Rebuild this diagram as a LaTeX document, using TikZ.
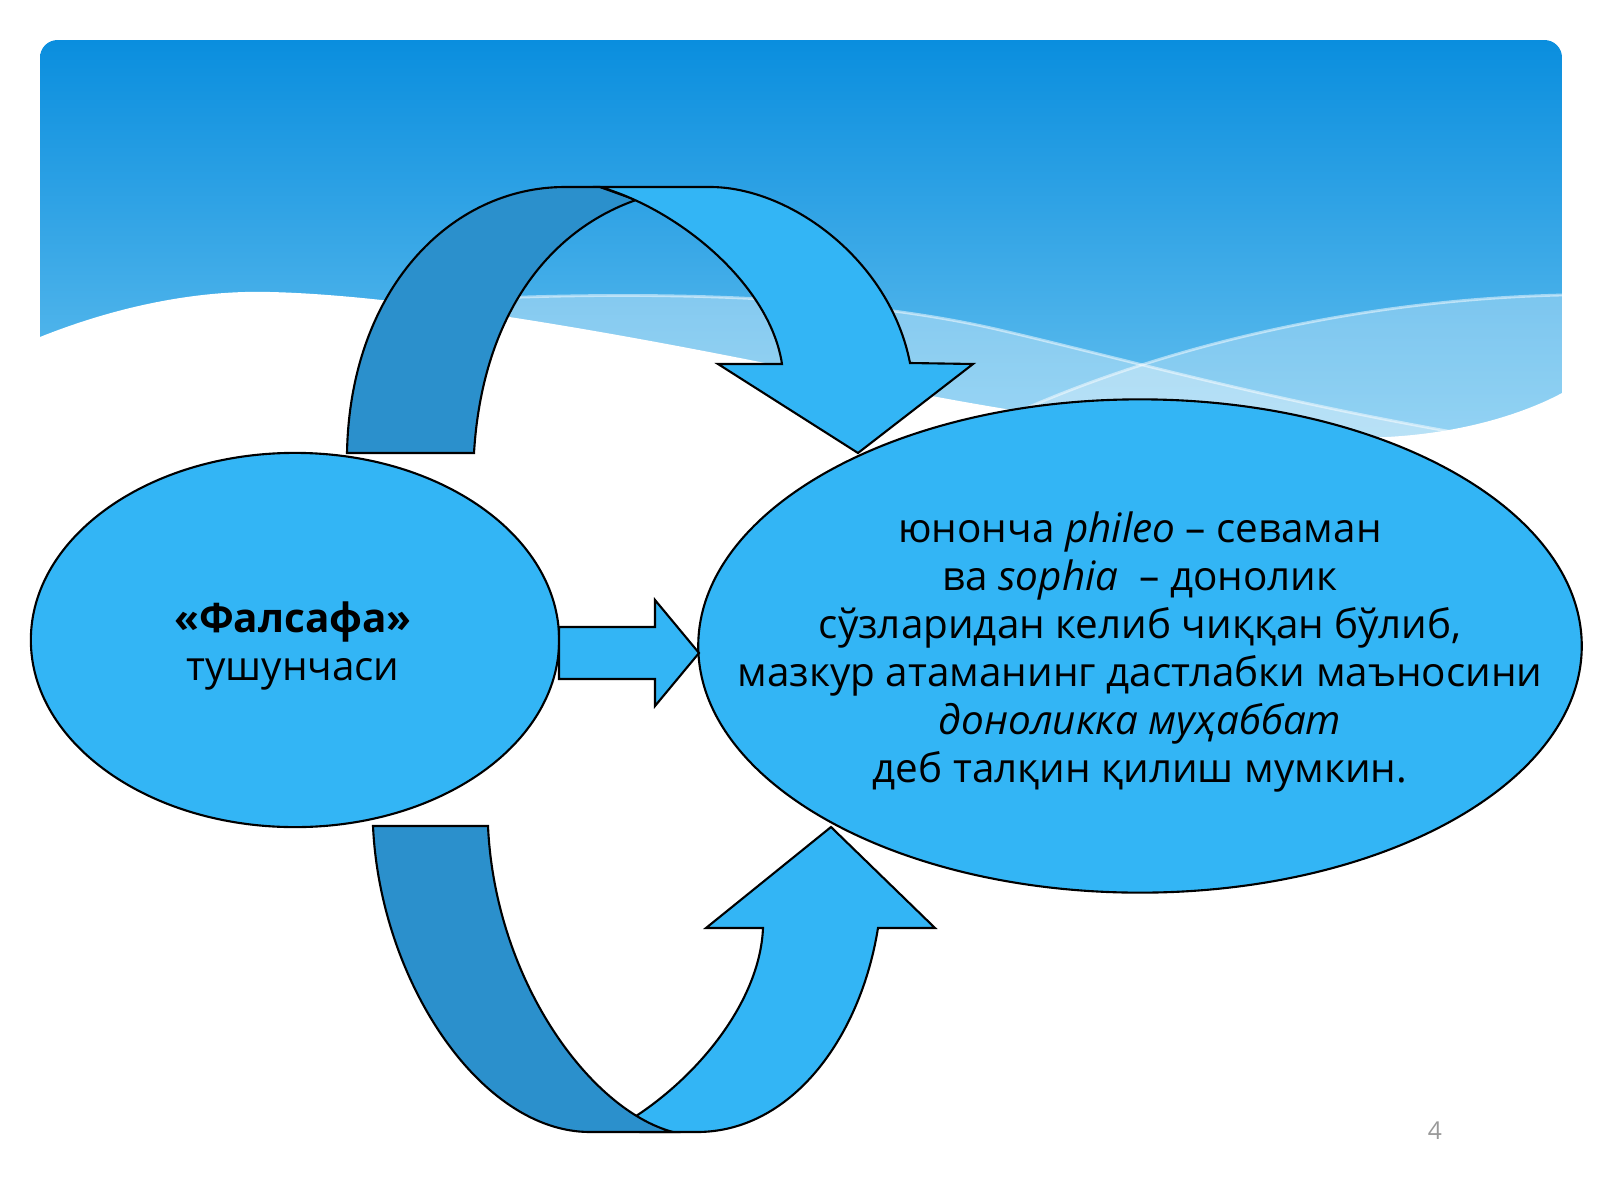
\documentclass[tikz,border=0pt]{standalone}
\usepackage{fontspec}
\setmainfont{Open Sans}
\usetikzlibrary{shapes.geometric}
\definecolor{skyblue}{HTML}{33B5F5}
\definecolor{bandblue}{HTML}{2B90CC}
\definecolor{panetop}{HTML}{0A8EDE}
\definecolor{panebottom}{HTML}{6CC4F0}
\tikzset{%
	bubble/.style   = {draw, ellipse, fill=skyblue, line width=0.6pt, inner sep=0pt}, % Ellipse
	front/.style    = {draw, fill=skyblue, line width=0.6pt, line join=miter}, % Front of a ribbon
	back/.style     = {draw, fill=bandblue, line width=0.6pt}, % Back of a ribbon
	txt/.style      = {align=center, font=\fontsize{11.5pt}{13.66pt}\selectfont}
}

\begin{document}
\begin{tikzpicture}[x=0.01cm, y=-0.01cm]
	\useasboundingbox (0,0) rectangle (1600,1200);

	% Background of the slide
	\begin{scope}
		\clip[rounded corners=5pt] (40,40) rectangle (1562,470);
		\shade[top color=panetop, bottom color=panebottom] (40,40) rectangle (1562,470);
		\fill[white, opacity=0.35] (450,300) .. controls (650,290) and (850,295) .. (1000,330)
			.. controls (1150,365) and (1300,410) .. (1562,450) -- (1562,470) -- (450,470) -- cycle;
		\fill[white, opacity=0.3] (1000,420) .. controls (1150,350) and (1350,300) .. (1562,295)
			-- (1562,470) -- (1000,470) -- cycle;
		\draw[white, opacity=0.5, line width=0.8pt] (450,300) .. controls (650,290) and (850,295) .. (1000,330)
			.. controls (1150,365) and (1300,410) .. (1562,450);
		\draw[white, opacity=0.5, line width=0.8pt] (1000,420) .. controls (1150,350) and (1350,300) .. (1562,295);
	\end{scope}
	% White wave, drawn past the edge of the panel
	\fill[white] (30,341) -- (40,337) .. controls (120,305) and (200,290) .. (270,292)
		.. controls (400,295) and (600,330) .. (765,363)
		.. controls (950,400) and (1150,445) .. (1387,437)
		.. controls (1480,432) and (1540,405) .. (1562,393) -- (1575,385) -- (1575,490) -- (30,490) -- cycle;

	% The two ellipses and their texts
	\node [bubble, minimum width=5.28cm, minimum height=3.74cm] (concept) at (295,640) {};
	\node [txt] (concepttext) at (293,646) {\textbf{«Фалсафа»}\\ тушунчаси};
	\node [bubble, minimum width=8.83cm, minimum height=4.93cm] (meaning) at (1140,646) {};
	\node [txt] (meaningtext) at (1140,652) {юнонча \textit{phileo} – севаман\\
		ва \textit{sophia}\ \ – донолик\\
		сўзларидан келиб чиққан бўлиб,\\
		мазкур атаманинг дастлабки маъносини\\
		\textit{доноликка муҳаббат}\\
		деб талқин қилиш мумкин.};

	% Straight arrow
	\draw[front] (559,627) -- (655,627) -- (655,600) -- (699,653) -- (655,706) -- (655,679) -- (559,679) -- cycle;

	% Curved arrow on top
	\draw[back] (347,453) .. controls (350,290) and (450,187) .. (565,187) -- (600,187) -- (636,200)
		.. controls (545,232) and (482,320) .. (474,453) -- cycle;
	\draw[front] (600,187) -- (710,187) .. controls (790,187) and (890,260) .. (910,363)
		-- (973,364) -- (858,453) -- (718,364) -- (782,364)
		.. controls (770,285) and (680,210) .. (600,187) -- cycle;

	% Curved arrow below
	\draw[front] (633,1118) .. controls (700,1075) and (760,1000) .. (763,928)
		-- (706,928) -- (831,827) -- (935,928) -- (878,928)
		.. controls (860,1040) and (790,1132) .. (697,1132) -- (640,1132) -- cycle;
	\draw[back] (373,826) -- (488,826) .. controls (495,980) and (590,1110) .. (673,1132)
		-- (590,1132) .. controls (480,1132) and (380,980) .. (373,826) -- cycle;

	% Slide number
	\node [text=black!40, font=\fontsize{7pt}{8pt}\selectfont] (pagenum) at (1435,1131) {4};
\end{tikzpicture}
\end{document}
